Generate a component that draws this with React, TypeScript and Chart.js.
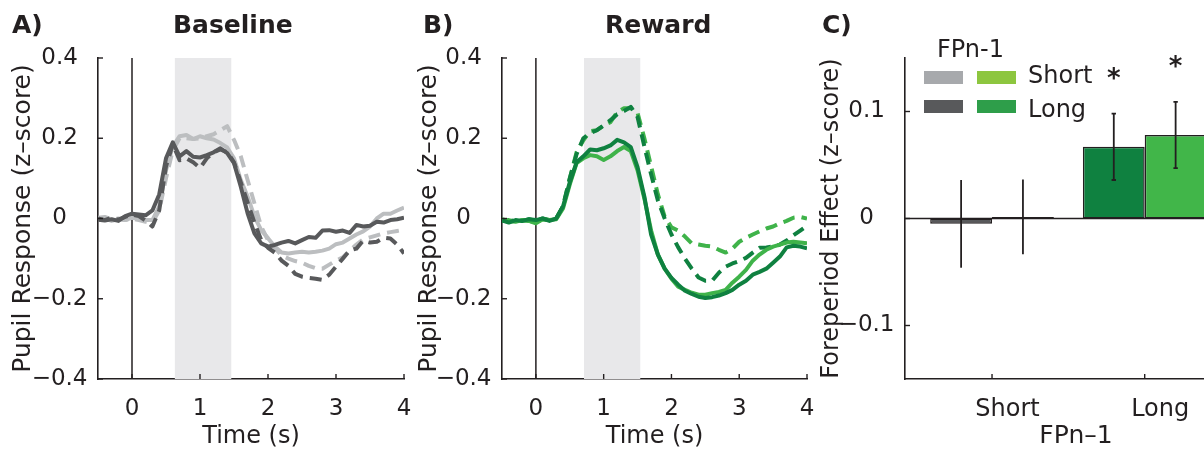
import React, { useEffect, useRef } from 'react';
import { Chart, registerables } from 'chart.js';

Chart.register(...registerables);

// ---------------- data ----------------
const TIME = [
  -0.5, -0.4, -0.3, -0.2, -0.1, 0.0, 0.1, 0.2, 0.3, 0.4,
  0.5, 0.6, 0.7, 0.8, 0.9, 1.0, 1.1, 1.2, 1.3, 1.4,
  1.5, 1.6, 1.7, 1.8, 1.9, 2.0, 2.1, 2.2, 2.3, 2.4,
  2.5, 2.6, 2.7, 2.8, 2.9, 3.0, 3.1, 3.2, 3.3, 3.4,
  3.5, 3.6, 3.7, 3.8, 3.9, 4.0,
];

// Panel A (Baseline)
const baseLongSolid = [
  -0.003, -0.005, -0.002, -0.006, 0.006, 0.012, 0.010, 0.008, 0.020, 0.060,
  0.150, 0.190, 0.155, 0.168, 0.154, 0.152, 0.158, 0.165, 0.175, 0.163,
  0.138, 0.079, 0.013, -0.037, -0.062, -0.070, -0.066, -0.060, -0.056, -0.062,
  -0.054, -0.046, -0.048, -0.030, -0.029, -0.033, -0.030, -0.036, -0.016, -0.020,
  -0.018, -0.008, -0.010, -0.004, -0.002, 0.002,
];
const baseLongDashed = [
  0.000, -0.004, 0.002, -0.003, 0.004, 0.010, 0.006, -0.005, -0.020, 0.020,
  0.130, 0.185, 0.145, 0.150, 0.140, 0.126, 0.150, 0.165, 0.172, 0.165,
  0.140, 0.090, 0.040, -0.010, -0.054, -0.073, -0.085, -0.105, -0.118, -0.138,
  -0.145, -0.148, -0.150, -0.153, -0.140, -0.120, -0.100, -0.080, -0.075, -0.055,
  -0.060, -0.058, -0.048, -0.050, -0.065, -0.087,
];
const baseShortSolid = [
  -0.004, 0.000, -0.006, -0.002, -0.004, 0.002, 0.000, -0.004, -0.004, 0.030,
  0.120, 0.180, 0.205, 0.208, 0.198, 0.205, 0.200, 0.197, 0.188, 0.177,
  0.150, 0.096, 0.055, 0.005, -0.029, -0.049, -0.070, -0.085, -0.087, -0.085,
  -0.083, -0.085, -0.083, -0.080, -0.075, -0.064, -0.060, -0.050, -0.040, -0.032,
  -0.020, 0.000, 0.012, 0.012, 0.020, 0.027,
];
const baseShortDashed = [
  0.002, 0.004, -0.002, 0.000, -0.004, 0.000, -0.004, -0.008, -0.010, 0.020,
  0.100, 0.170, 0.200, 0.200, 0.198, 0.200, 0.205, 0.210, 0.220, 0.230,
  0.196, 0.155, 0.096, 0.038, -0.020, -0.054, -0.074, -0.092, -0.100, -0.106,
  -0.110, -0.118, -0.124, -0.125, -0.115, -0.105, -0.097, -0.080, -0.065, -0.052,
  -0.047, -0.042, -0.037, -0.034, -0.031, -0.028,
];

// Panel B (Reward)
const rewLongSolid = [
  -0.005, -0.010, -0.004, -0.006, -0.002, -0.004, 0.000, -0.006, 0.000, 0.030,
  0.090, 0.140, 0.155, 0.172, 0.170, 0.175, 0.182, 0.196, 0.190, 0.178,
  0.128, 0.055, -0.040, -0.090, -0.125, -0.148, -0.165, -0.180, -0.188, -0.195,
  -0.198, -0.196, -0.192, -0.186, -0.178, -0.165, -0.155, -0.140, -0.133, -0.125,
  -0.110, -0.095, -0.072, -0.068, -0.070, -0.074,
];
const rewShortSolid = [
  -0.002, -0.006, -0.008, -0.004, -0.006, -0.012, -0.002, -0.004, -0.002, 0.025,
  0.085, 0.138, 0.150, 0.158, 0.155, 0.146, 0.155, 0.168, 0.178, 0.168,
  0.120, 0.050, -0.030, -0.090, -0.125, -0.150, -0.170, -0.178, -0.185, -0.190,
  -0.190, -0.186, -0.183, -0.178, -0.160, -0.145, -0.128, -0.105, -0.090, -0.078,
  -0.070, -0.065, -0.060, -0.058, -0.060, -0.062,
];
const rewLongDashed = [
  -0.004, -0.008, -0.004, -0.006, -0.002, -0.006, 0.000, -0.004, 0.000, 0.030,
  0.100, 0.160, 0.200, 0.213, 0.220, 0.232, 0.245, 0.260, 0.268, 0.278,
  0.253, 0.180, 0.110, 0.045, 0.000, -0.040, -0.072, -0.100, -0.125, -0.147,
  -0.155, -0.155, -0.135, -0.120, -0.112, -0.106, -0.098, -0.085, -0.073, -0.072,
  -0.070, -0.065, -0.055, -0.042, -0.030, -0.018,
];
const rewShortDashed = [
  -0.006, -0.004, -0.008, -0.004, -0.006, -0.010, -0.002, -0.004, 0.000, 0.030,
  0.100, 0.165, 0.195, 0.218, 0.220, 0.232, 0.240, 0.265, 0.275, 0.275,
  0.263, 0.200, 0.130, 0.060, 0.005, -0.022, -0.030, -0.045, -0.062, -0.065,
  -0.068, -0.070, -0.078, -0.085, -0.075, -0.058, -0.048, -0.040, -0.032, -0.025,
  -0.020, -0.012, -0.006, 0.002, 0.004, 0.000,
];

const TIME_TICKS = [0, 1, 2, 3, 4];
const PUPIL_TICKS = [-0.4, -0.2, 0, 0.2, 0.4];
const SHADE_A = [0.63, 1.46];
const SHADE_B = [0.71, 1.54];

// Panel C (bars)
const FP_CATEGORIES = ['Short', 'Long'];
const FP_POSITIONS = [1, 2];
const barsFirst = [-0.005, 0.067];
const barsSecond = [0.0015, 0.078];
const errFirst = [0.041, 0.031];
const errSecond = [0.035, 0.031];
const sigFirst = [false, true];
const sigSecond = [false, true];
const EFFECT_TICKS = [-0.1, 0, 0.1];

// ---------------- styling ----------------
const INK = '#231f20';
const FONT = "'DejaVu Sans', sans-serif";
const LIGHT_GREY = '#bcbec0';
const DARK_GREY = '#58595b';
const DARK_GREEN = '#0f8140';
const LIGHT_GREEN = '#3fb34a';
const DASH = [12, 7];

Chart.defaults.font.family = FONT;
Chart.defaults.color = INK;

function fmtTick(v: number): string {
  if (Math.abs(v) < 1e-9) return '0';
  const s = String(Math.round(Math.abs(v) * 100) / 100);
  return (v < 0 ? '\u2212' : '') + s;
}

const innerTicks = {
  id: 'innerTicks',
  afterDraw(chart: any) {
    const { ctx, chartArea, scales } = chart;
    ctx.save();
    ctx.strokeStyle = INK;
    ctx.lineWidth = 1.4;
    scales.x.ticks.forEach((t: any) => {
      const px = scales.x.getPixelForValue(t.value);
      ctx.beginPath();
      ctx.moveTo(px, chartArea.bottom);
      ctx.lineTo(px, chartArea.bottom - 5);
      ctx.stroke();
    });
    scales.y.ticks.forEach((t: any) => {
      const py = scales.y.getPixelForValue(t.value);
      ctx.beginPath();
      ctx.moveTo(chartArea.left, py);
      ctx.lineTo(chartArea.left + 5, py);
      ctx.stroke();
    });
    ctx.restore();
  },
};

const shadePlugin = {
  id: 'shade',
  beforeDatasetsDraw(chart: any, _args: any, opts: any) {
    const { ctx, chartArea, scales } = chart;
    const x0 = scales.x.getPixelForValue(opts.from);
    const x1 = scales.x.getPixelForValue(opts.to);
    ctx.save();
    ctx.fillStyle = opts.color;
    ctx.fillRect(x0, chartArea.top, x1 - x0, chartArea.bottom - chartArea.top);
    const xz = scales.x.getPixelForValue(opts.onset);
    ctx.strokeStyle = INK;
    ctx.lineWidth = 1.5;
    ctx.beginPath();
    ctx.moveTo(xz, chartArea.top);
    ctx.lineTo(xz, chartArea.bottom);
    ctx.stroke();
    ctx.restore();
  },
};

const barExtras = {
  id: 'barExtras',
  beforeDatasetsDraw(chart: any) {
    const { ctx, chartArea, scales } = chart;
    const y0 = scales.y.getPixelForValue(0);
    ctx.save();
    ctx.strokeStyle = INK;
    ctx.lineWidth = 1.6;
    ctx.beginPath();
    ctx.moveTo(chartArea.left, y0);
    ctx.lineTo(chartArea.right, y0);
    ctx.stroke();
    ctx.restore();
  },
  afterDatasetsDraw(chart: any, _args: any, opts: any) {
    const { ctx } = chart;
    const y = chart.scales.y;
    ctx.save();
    ctx.strokeStyle = INK;
    ctx.fillStyle = INK;
    ctx.lineWidth = 1.8;
    chart.data.datasets.forEach((ds: any, di: number) => {
      const meta = chart.getDatasetMeta(di);
      meta.data.forEach((el: any, i: number) => {
        const v = ds.data[i].y;
        const e = opts.errors[di][i];
        const yt = y.getPixelForValue(v + e);
        const yb = y.getPixelForValue(v - e);
        ctx.beginPath();
        ctx.moveTo(el.x, yt);
        ctx.lineTo(el.x, yb);
        ctx.stroke();
        const cap = opts.caps[i];
        if (cap > 0) {
          ctx.beginPath();
          ctx.moveTo(el.x - cap, yt);
          ctx.lineTo(el.x + cap, yt);
          ctx.moveTo(el.x - cap, yb);
          ctx.lineTo(el.x + cap, yb);
          ctx.stroke();
        }
        if (opts.sig[di][i]) {
          ctx.font = `bold 26px ${FONT}`;
          ctx.textAlign = 'center';
          ctx.textBaseline = 'alphabetic';
          ctx.fillText('*', el.x, yt - 27);
        }
      });
    });
    ctx.restore();
  },
};

function lineDataset(values: number[], color: string, dashed: boolean) {
  return {
    data: TIME.map((t, i) => ({ x: t, y: values[i] })),
    borderColor: color,
    backgroundColor: color,
    borderWidth: 4,
    borderDash: dashed ? DASH : [],
    borderJoinStyle: 'round',
    pointRadius: 0,
    tension: 0,
    fill: false,
  };
}

function axisCommon() {
  return {
    grid: { display: false },
    border: { display: true, color: INK, width: 1.6 },
  };
}

function lineConfig(datasets: any[], shade: number[], padLeft: number, yWidth: number, padRight: number) {
  return {
    type: 'line',
    data: { datasets },
    options: {
      animation: false,
      responsive: false,
      maintainAspectRatio: false,
      layout: { padding: { left: padLeft, right: padRight, top: 58, bottom: 4 } },
      plugins: {
        legend: { display: false },
        tooltip: { enabled: false },
        shade: { from: shade[0], to: shade[1], onset: 0, color: '#e8e8ea' },
      },
      scales: {
        x: {
          type: 'linear',
          min: -0.5,
          max: 4,
          ...axisCommon(),
          afterBuildTicks: (s: any) => { s.ticks = TIME_TICKS.map((v) => ({ value: v })); },
          afterFit: (s: any) => { s.height = 72; },
          ticks: { font: { size: 23 }, color: INK, padding: 8, maxRotation: 0, autoSkip: false, callback: (v: number) => fmtTick(v) },
          title: { display: true, text: 'Time (s)', font: { size: 24 }, color: INK, padding: 0 },
        },
        y: {
          type: 'linear',
          min: -0.4,
          max: 0.4,
          ...axisCommon(),
          afterBuildTicks: (s: any) => { s.ticks = PUPIL_TICKS.map((v) => ({ value: v })); },
          afterFit: (s: any) => { s.width = yWidth; },
          ticks: { font: { size: 23 }, color: INK, padding: 2.5, crossAlign: 'center', callback: (v: number) => fmtTick(v) },
          title: { display: true, text: 'Pupil Response (z\u2013score)', font: { size: 25 }, color: INK, padding: 0 },
        },
      },
    },
    plugins: [shadePlugin, innerTicks],
  };
}

function barConfig() {
  return {
    type: 'bar',
    data: {
      datasets: [
        {
          data: FP_POSITIONS.map((x, i) => ({ x, y: barsFirst[i] })),
          backgroundColor: [DARK_GREY, DARK_GREEN],
          borderColor: INK,
          borderWidth: 1.5,
          borderSkipped: false,
          categoryPercentage: 0.81,
          barPercentage: 1,
        },
        {
          data: FP_POSITIONS.map((x, i) => ({ x, y: barsSecond[i] })),
          backgroundColor: ['#a7a9ac', '#41b649'],
          borderColor: INK,
          borderWidth: 1.5,
          borderSkipped: false,
          categoryPercentage: 0.81,
          barPercentage: 1,
        },
      ],
    },
    options: {
      animation: false,
      responsive: false,
      maintainAspectRatio: false,
      layout: { padding: { left: 17, right: 3, top: 58, bottom: 4 } },
      plugins: {
        legend: { display: false },
        tooltip: { enabled: false },
        barExtras: { errors: [errFirst, errSecond], sig: [sigFirst, sigSecond], caps: [0, 2.2] },
      },
      scales: {
        x: {
          type: 'linear',
          min: 0.43,
          max: 2.67,
          offset: false,
          ...axisCommon(),
          afterBuildTicks: (s: any) => { s.ticks = FP_POSITIONS.map((v) => ({ value: v })); },
          afterFit: (s: any) => { s.height = 72; },
          ticks: {
            font: { size: 24 }, color: INK, padding: 8, maxRotation: 0, autoSkip: false, labelOffset: 15.5,
            callback: (v: number) => FP_CATEGORIES[FP_POSITIONS.indexOf(v)] ?? '',
          },
          title: { display: true, text: 'FPn\u20131', font: { size: 25 }, color: INK, padding: 0 },
        },
        y: {
          type: 'linear',
          min: -0.15,
          max: 0.15,
          ...axisCommon(),
          afterBuildTicks: (s: any) => { s.ticks = EFFECT_TICKS.map((v) => ({ value: v })); },
          afterFit: (s: any) => { s.width = 88; },
          ticks: { font: { size: 23 }, color: INK, padding: 2.5, crossAlign: 'center', callback: (v: number) => fmtTick(v) },
          title: { display: true, text: 'Foreperiod Effect (z\u2013score)', font: { size: 24 }, color: INK, padding: 0 },
        },
      },
    },
    plugins: [barExtras, innerTicks],
  };
}

function ChartCanvas({ make, left, width, height }: { make: () => any; left: number; width: number; height: number }) {
  const ref = useRef<HTMLCanvasElement>(null);
  useEffect(() => {
    const chart = new Chart(ref.current as HTMLCanvasElement, make());
    return () => chart.destroy();
  }, []);
  return (
    <canvas
      ref={ref}
      width={width}
      height={height}
      style={{ position: 'absolute', left, top: 0, width, height }}
    />
  );
}

const textBase: React.CSSProperties = {
  position: 'absolute',
  fontFamily: FONT,
  color: INK,
  whiteSpace: 'nowrap',
};

function Label({ text, left, top, size, bold }: { text: string; left: number; top: number; size: number; bold?: boolean }) {
  return (
    <div style={{ ...textBase, left, top, fontSize: size, lineHeight: `${size}px`, fontWeight: bold ? 'bold' : 'normal' }}>
      {text}
    </div>
  );
}

function Swatch({ left, top, color }: { left: number; top: number; color: string }) {
  return <div style={{ position: 'absolute', left, top, width: 39, height: 13, background: color }} />;
}

export default function App() {
  const makeA = () =>
    lineConfig(
      [
        lineDataset(baseLongSolid, DARK_GREY, false),
        lineDataset(baseLongDashed, DARK_GREY, true),
        lineDataset(baseShortSolid, LIGHT_GREY, false),
        lineDataset(baseShortDashed, LIGHT_GREY, true),
      ],
      SHADE_A, 8, 90, 16,
    );
  const makeB = () =>
    lineConfig(
      [
        lineDataset(rewLongSolid, DARK_GREEN, false),
        lineDataset(rewShortSolid, LIGHT_GREEN, false),
        lineDataset(rewLongDashed, DARK_GREEN, true),
        lineDataset(rewShortDashed, LIGHT_GREEN, true),
      ],
      SHADE_B, 14, 88, 18,
    );

  return (
    <div style={{ position: 'fixed', left: 0, top: 0, width: 1204, height: 455, overflow: 'hidden', background: '#fff' }}>
      <ChartCanvas make={makeA} left={0} width={420} height={455} />
      <ChartCanvas make={makeB} left={400} width={425} height={455} />
      <ChartCanvas make={barConfig} left={800} width={450} height={455} />

      <Label text="A)" left={12} top={12} size={25} bold />
      <Label text="Baseline" left={173} top={12} size={25} bold />
      <Label text="B)" left={423} top={12} size={25} bold />
      <Label text="Reward" left={605} top={12} size={25} bold />
      <Label text="C)" left={822} top={12} size={25} bold />

      <Label text="FPn-1" left={937} top={37} size={24} />
      <Swatch left={924} top={71} color="#a7a9ac" />
      <Swatch left={977} top={71} color="#8dc63f" />
      <Swatch left={924} top={100} color={DARK_GREY} />
      <Swatch left={977} top={100} color="#2e9e4a" />
      <Label text="Short" left={1028} top={63} size={24} />
      <Label text="Long" left={1028} top={97} size={24} />
    </div>
  );
}
